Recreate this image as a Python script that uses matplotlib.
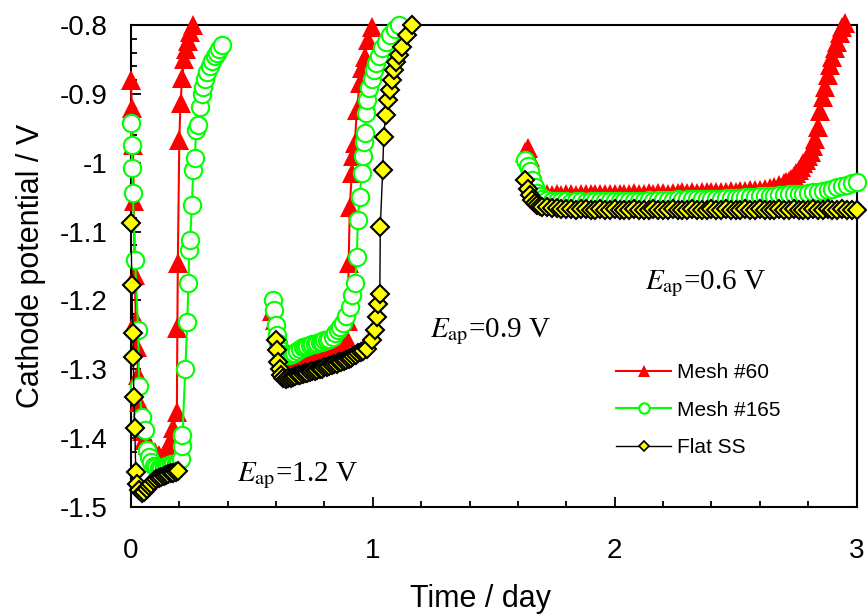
import matplotlib
matplotlib.use("Agg")
import matplotlib.pyplot as plt
from matplotlib.ticker import MultipleLocator, FuncFormatter
from matplotlib.lines import Line2D

plt.rcParams['font.family'] = ['Liberation Sans', 'DejaVu Sans']
plt.rcParams['mathtext.fontset'] = 'stix'

# ---------------- data ----------------
series_names = ["Mesh #60", "Mesh #165", "Flat SS"]

# Segment 1 (E_ap = 1.2 V)
t_r1 = [0.000, 0.004, 0.008, 0.012, 0.016, 0.020, 0.025, 0.030, 0.035, 0.040, 0.045, 0.055, 0.070, 0.085,
        0.100, 0.115, 0.130, 0.140, 0.150, 0.160, 0.175, 0.190, 0.192, 0.194, 0.200, 0.205, 0.212, 0.220,
        0.228, 0.236, 0.245, 0.255]
v_r1 = [-0.880, -0.920, -0.975, -1.055, -1.163, -1.228, -1.267, -1.308, -1.347, -1.369, -1.390, -1.402, -1.410, -1.415,
        -1.420, -1.425, -1.430, -1.425, -1.415, -1.405, -1.385, -1.362, -1.240, -1.145, -0.967, -0.913, -0.877, -0.850,
        -0.835, -0.823, -0.810, -0.800]

t_g1 = [0.000, 0.003, 0.005, 0.008, 0.017, 0.030, 0.034, 0.045, 0.057, 0.065, 0.075, 0.085, 0.095, 0.105, 0.115,
        0.125, 0.135, 0.145, 0.155, 0.165, 0.175, 0.185, 0.195, 0.205, 0.210, 0.213, 0.225, 0.233, 0.238, 0.241,
        0.245, 0.252, 0.258, 0.264, 0.270, 0.277, 0.285, 0.292, 0.299, 0.306, 0.316, 0.326, 0.336, 0.347, 0.357,
        0.366, 0.376]
v_g1 = [-0.942, -0.974, -1.008, -1.044, -1.141, -1.243, -1.325, -1.369, -1.388, -1.417, -1.428, -1.435, -1.440, -1.442, -1.444,
        -1.443, -1.442, -1.440, -1.440, -1.438, -1.438, -1.437, -1.435, -1.430, -1.412, -1.395, -1.300, -1.231, -1.174, -1.127,
        -1.112, -1.061, -1.010, -0.993, -0.952, -0.945, -0.919, -0.900, -0.890, -0.878, -0.868, -0.860, -0.852, -0.845, -0.840,
        -0.835, -0.829]

t_y1 = [0.000, 0.004, 0.008, 0.010, 0.012, 0.016, 0.020, 0.027, 0.035, 0.045, 0.055, 0.065, 0.075, 0.085, 0.095,
        0.105, 0.115, 0.125, 0.135, 0.145, 0.155, 0.165, 0.175, 0.185, 0.195]
v_y1 = [-1.087, -1.177, -1.247, -1.282, -1.340, -1.385, -1.449, -1.466, -1.475, -1.480, -1.478, -1.474, -1.470, -1.466, -1.462,
        -1.460, -1.458, -1.457, -1.455, -1.453, -1.452, -1.451, -1.450, -1.449, -1.448]

# Segment 2 (E_ap = 0.9 V)
t_r2 = [0.585, 0.595, 0.605, 0.615, 0.625, 0.635, 0.645, 0.660, 0.680, 0.700, 0.720, 0.740, 0.760, 0.780, 0.800,
        0.820, 0.840, 0.860, 0.875, 0.890, 0.897, 0.900, 0.905, 0.913, 0.920, 0.926, 0.934, 0.946, 0.956, 0.967,
        0.980, 0.996]
v_r2 = [-1.215, -1.228, -1.242, -1.255, -1.265, -1.272, -1.278, -1.282, -1.283, -1.283, -1.282, -1.281, -1.280, -1.279, -1.277,
        -1.275, -1.272, -1.268, -1.262, -1.253, -1.230, -1.145, -1.064, -1.015, -0.990, -0.971, -0.923, -0.884, -0.862, -0.846,
        -0.822, -0.803]

t_g2 = [0.587, 0.592, 0.598, 0.603, 0.610, 0.616, 0.625, 0.635, 0.645, 0.655, 0.665, 0.675, 0.685, 0.698, 0.710,
        0.720, 0.730, 0.740, 0.750, 0.760, 0.769, 0.780, 0.790, 0.800, 0.810, 0.820, 0.835, 0.845, 0.855, 0.866,
        0.876, 0.890, 0.905, 0.915, 0.926, 0.934, 0.938, 0.945, 0.955, 0.960, 0.963, 0.967, 0.970, 0.975, 0.985,
        0.995, 1.005, 1.015, 1.025, 1.040, 1.055, 1.070, 1.090, 1.110]
v_g2 = [-1.199, -1.214, -1.235, -1.250, -1.262, -1.272, -1.278, -1.280, -1.280, -1.279, -1.278, -1.276, -1.274, -1.270, -1.268,
        -1.267, -1.266, -1.265, -1.264, -1.263, -1.262, -1.261, -1.260, -1.258, -1.257, -1.256, -1.253, -1.248, -1.243, -1.238,
        -1.233, -1.222, -1.209, -1.192, -1.174, -1.137, -1.083, -1.050, -1.015, -0.990, -0.970, -0.957, -0.928, -0.909, -0.892,
        -0.878, -0.866, -0.855, -0.845, -0.834, -0.824, -0.815, -0.806, -0.800]

t_y2 = [0.600, 0.605, 0.610, 0.615, 0.622, 0.630, 0.640, 0.650, 0.660, 0.670, 0.680, 0.690, 0.700, 0.710, 0.720,
        0.730, 0.740, 0.750, 0.760, 0.770, 0.780, 0.790, 0.800, 0.810, 0.820, 0.830, 0.840, 0.850, 0.860, 0.870,
        0.880, 0.890, 0.900, 0.910, 0.920, 0.930, 0.940, 0.950, 0.960, 0.975, 0.995, 1.010, 1.016, 1.020, 1.029,
        1.031, 1.041, 1.045, 1.053, 1.062, 1.070, 1.078, 1.088, 1.097, 1.110, 1.122, 1.140, 1.160]
v_y2 = [-1.257, -1.272, -1.290, -1.300, -1.308, -1.312, -1.314, -1.313, -1.312, -1.311, -1.310, -1.309, -1.308, -1.307, -1.306,
        -1.305, -1.304, -1.303, -1.302, -1.301, -1.300, -1.299, -1.297, -1.296, -1.295, -1.294, -1.293, -1.292, -1.290, -1.289,
        -1.288, -1.287, -1.285, -1.283, -1.281, -1.279, -1.277, -1.275, -1.273, -1.270, -1.257, -1.243, -1.224, -1.205, -1.190,
        -1.093, -1.010, -0.962, -0.930, -0.909, -0.894, -0.880, -0.865, -0.854, -0.844, -0.832, -0.815, -0.800]

# Segment 3 (E_ap = 0.6 V)
t_3 = [1.63, 1.64, 1.65, 1.66, 1.67, 1.68, 1.69, 1.70,
       1.72, 1.74, 1.76, 1.78, 1.80, 1.82, 1.84, 1.86, 1.88, 1.90,
       1.92, 1.94, 1.96, 1.98, 2.00, 2.02, 2.04, 2.06, 2.08, 2.10,
       2.12, 2.14, 2.16, 2.18, 2.20, 2.22, 2.24, 2.26, 2.28, 2.30,
       2.32, 2.34, 2.36, 2.38, 2.40, 2.42, 2.44, 2.46, 2.48, 2.50,
       2.52, 2.54, 2.56, 2.58, 2.60, 2.62, 2.64, 2.66, 2.68, 2.70,
       2.72, 2.74, 2.76, 2.78, 2.80, 2.82, 2.84, 2.86, 2.88, 2.90,
       2.92, 2.94, 2.96, 2.98, 3.00]
v_g3 = [-0.996, -1.005, -1.012, -1.025, -1.036, -1.044, -1.049, -1.052,
        -1.054, -1.055, -1.056, -1.056, -1.056, -1.057, -1.056, -1.056, -1.057, -1.056,
        -1.056, -1.056, -1.056, -1.055, -1.056, -1.055, -1.055, -1.056, -1.055, -1.055,
        -1.055, -1.054, -1.055, -1.054, -1.054, -1.054, -1.054, -1.053, -1.054, -1.053,
        -1.053, -1.053, -1.052, -1.053, -1.052, -1.052, -1.052, -1.051, -1.051, -1.051,
        -1.051, -1.050, -1.050, -1.050, -1.049, -1.049, -1.048, -1.048, -1.047, -1.047,
        -1.046, -1.046, -1.045, -1.045, -1.044, -1.043, -1.042, -1.041, -1.040, -1.038,
        -1.036, -1.034, -1.032, -1.030, -1.028]
v_y3 = [-1.025, -1.038, -1.047, -1.054, -1.058, -1.061, -1.063, -1.064,
        -1.065, -1.066, -1.066, -1.067, -1.067, -1.067, -1.068, -1.067, -1.067, -1.068,
        -1.068, -1.067, -1.068, -1.068, -1.067, -1.068, -1.068, -1.068, -1.067, -1.068,
        -1.068, -1.068, -1.067, -1.068, -1.068, -1.068, -1.067, -1.068, -1.068, -1.068,
        -1.067, -1.068, -1.068, -1.068, -1.067, -1.068, -1.068, -1.067, -1.068, -1.068,
        -1.068, -1.067, -1.068, -1.068, -1.067, -1.068, -1.068, -1.068, -1.067, -1.068,
        -1.068, -1.067, -1.068, -1.068, -1.068, -1.067, -1.068, -1.068, -1.067, -1.068,
        -1.068, -1.067, -1.068, -1.068, -1.068]

t_r3 = [1.63, 1.64, 1.65, 1.66, 1.67, 1.68, 1.69, 1.70,
        1.72, 1.74, 1.76, 1.78, 1.80, 1.82, 1.84, 1.86, 1.88, 1.90,
        1.92, 1.94, 1.96, 1.98, 2.00, 2.02, 2.04, 2.06, 2.08, 2.10,
        2.12, 2.14, 2.16, 2.18, 2.20, 2.22, 2.24, 2.26, 2.28, 2.30,
        2.32, 2.34, 2.36, 2.38, 2.40, 2.42, 2.44, 2.46, 2.48, 2.50,
        2.52, 2.54, 2.56, 2.58, 2.60, 2.62, 2.64, 2.66, 2.68, 2.70,
        2.71, 2.72, 2.73, 2.74, 2.75, 2.76, 2.77, 2.78, 2.79, 2.80,
        2.81, 2.82, 2.83, 2.84, 2.85, 2.86, 2.87, 2.88, 2.89, 2.90,
        2.91, 2.92, 2.93, 2.94, 2.95]
v_r3 = [-0.985, -0.978, -0.992, -1.008, -1.022, -1.033, -1.040, -1.044,
        -1.046, -1.047, -1.046, -1.047, -1.046, -1.046, -1.047, -1.046, -1.045, -1.046,
        -1.046, -1.045, -1.046, -1.045, -1.045, -1.046, -1.045, -1.045, -1.044, -1.045,
        -1.045, -1.044, -1.045, -1.044, -1.044, -1.045, -1.044, -1.044, -1.043, -1.044,
        -1.043, -1.044, -1.043, -1.043, -1.042, -1.043, -1.042, -1.042, -1.041, -1.042,
        -1.041, -1.041, -1.040, -1.040, -1.039, -1.038, -1.037, -1.035, -1.033, -1.030,
        -1.028, -1.026, -1.023, -1.019, -1.015, -1.011, -1.006, -1.001, -0.996, -0.990,
        -0.984, -0.976, -0.966, -0.948, -0.925, -0.905, -0.890, -0.872, -0.858, -0.846,
        -0.834, -0.824, -0.812, -0.803, -0.797]

annotations = ["1.2 V", "0.9 V", "0.6 V"]

# ---------------- styles ----------------
red_style = dict(color='#FF0000', lw=1.5, marker='^', ms=14, mfc='#FF0000', mec='#FF0000', mew=0)
green_style = dict(color='#00FF00', lw=1.5, marker='o', ms=12.5, mfc='white', mec='#00FF00', mew=1.5)
yellow_style = dict(color='black', lw=1.0, marker='D', ms=9.3, mfc='#FFFF00', mec='black', mew=1.5)

fig = plt.figure(figsize=(8.67, 6.14), dpi=100)
ax = fig.add_axes([0.151, 0.1743, 0.837, 0.785])

for t, v in [(t_r1, v_r1), (t_r2, v_r2), (t_r3, v_r3)]:
    ax.plot(t, v, clip_on=False, zorder=3, **red_style)
for t, v in [(t_g1, v_g1), (t_g2, v_g2), (t_3, v_g3)]:
    ax.plot(t, v, clip_on=False, zorder=4, **green_style)
for t, v in [(t_y1, v_y1), (t_y2, v_y2), (t_3, v_y3)]:
    ax.plot(t, v, clip_on=False, zorder=5, **yellow_style)

ax.set_xlim(0, 3)
ax.set_ylim(-1.5, -0.8)
ax.xaxis.set_major_locator(MultipleLocator(1))
ax.xaxis.set_minor_locator(MultipleLocator(0.2))
ax.yaxis.set_major_locator(MultipleLocator(0.1))
ax.yaxis.set_minor_locator(MultipleLocator(0.02))
fmt = FuncFormatter(lambda v, p: f"{v:g}")
ax.xaxis.set_major_formatter(fmt)
ax.yaxis.set_major_formatter(fmt)

ax.tick_params(axis='both', which='both', direction='in', top=False, right=False, width=1.3)
ax.tick_params(axis='both', which='major', length=7)
ax.tick_params(axis='both', which='minor', length=4.5)
ax.tick_params(axis='x', which='major', labelsize=20, pad=22)
ax.tick_params(axis='y', which='major', labelsize=20, pad=17)
for s in ax.spines.values():
    s.set_linewidth(1.5)
    s.set_zorder(2)

ax.set_xlabel("Time / day", fontsize=22, labelpad=15)
ax.xaxis.label.set_x(0.482)
ax.set_ylabel("Cathode potential / V", fontsize=22, labelpad=10)

ann_pos = [(0.438, -1.463), (1.236, -1.253), (2.124, -1.183)]
for (x, y), s in zip(ann_pos, annotations):
    ax.text(x, y, r"$E_{\mathrm{ap}}$=" + s, fontsize=21, family=['Liberation Serif', 'DejaVu Serif'],
            ha='left', va='baseline', zorder=6)

handles = [
    Line2D([], [], color='#FF0000', lw=1.5, marker='^', ms=9, mfc='#FF0000', mec='#FF0000', mew=0),
    Line2D([], [], color='#00FF00', lw=1.5, marker='o', ms=7.5, mfc='white', mec='#00FF00', mew=1.5),
    Line2D([], [], color='black', lw=1.0, marker='D', ms=5.5, mfc='#FFFF00', mec='black', mew=1.2),
]
fig.legend(handles, series_names, loc='center left', bbox_to_anchor=(0.711, 0.332),
           frameon=False, fontsize=15, handlelength=2.6, handletextpad=0.3,
           labelspacing=0.9, borderpad=0, borderaxespad=0)

fig.savefig("out.png", dpi=100)
